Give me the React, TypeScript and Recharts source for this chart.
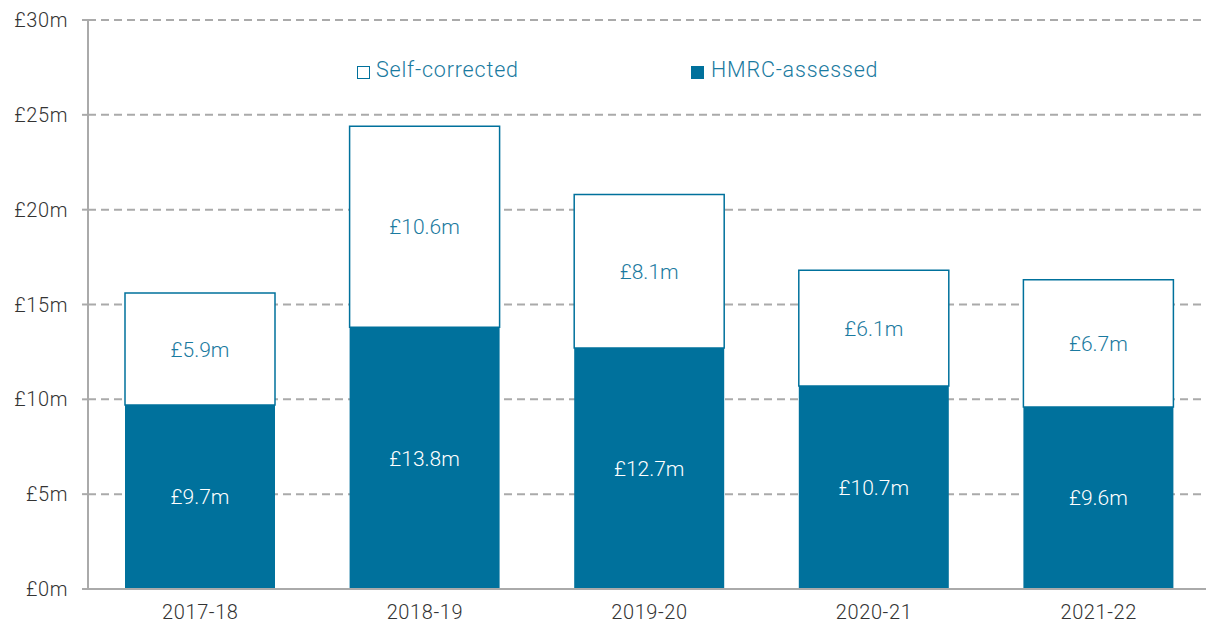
import React from "react";
import { BarChart, Bar, XAxis, YAxis, CartesianGrid, LabelList, Legend } from "recharts";

const categories = ["2017-18", "2018-19", "2019-20", "2020-21", "2021-22"];
const hmrcAssessed = [9.7, 13.8, 12.7, 10.7, 9.6];
const selfCorrected = [5.9, 10.6, 8.1, 6.1, 6.7];
const yTicks = [0, 5, 10, 15, 20, 25, 30];

const data = categories.map((c, i) => ({ year: c, hmrc: hmrcAssessed[i], self: selfCorrected[i] }));

const TEAL = "#00719c";
const TEXT_TEAL = "#1a7aa0";
const FONT = "Roboto, 'Noto Sans', sans-serif";

const renderLegend = () => (
  <div style={{ position: "relative", width: 1212, height: 0, fontFamily: FONT }}>
    <div style={{ position: "absolute", left: 357, top: 57, display: "flex", alignItems: "center", whiteSpace: "nowrap" }}>
      <span style={{ display: "inline-block", width: 11, height: 11, border: `1.5px solid ${TEAL}`, background: "#fff", marginRight: 6, marginTop: 5 }} />
      <span style={{ fontSize: 21.5, color: TEXT_TEAL, fontWeight: 300, letterSpacing: 0.8 }}>Self-corrected</span>
    </div>
    <div style={{ position: "absolute", left: 691, top: 57, display: "flex", alignItems: "center", whiteSpace: "nowrap" }}>
      <span style={{ display: "inline-block", width: 13, height: 13, background: TEAL, marginRight: 7, marginTop: 5 }} />
      <span style={{ fontSize: 21.5, color: TEXT_TEAL, fontWeight: 300, letterSpacing: 0.8 }}>HMRC-assessed</span>
    </div>
  </div>
);

const tickStyle = { fill: "#333", fontSize: 20, fontFamily: FONT, fontWeight: 300, letterSpacing: 0.6 };

export default function App() {
  return (
    <div style={{ position: "absolute", left: 0, top: 0, width: 1206, height: 628, overflow: "hidden", background: "#fff" }}>
      <BarChart
        width={1212}
        height={628}
        data={data}
        margin={{ top: 20, right: 1, left: 0, bottom: 9 }}
        barSize={150}
      >
        <CartesianGrid vertical={false} stroke="#aaaaaa" strokeDasharray="8 5" strokeWidth={2} />
        <XAxis
          dataKey="year"
          tickLine={false}
          axisLine={{ stroke: "#aaaaaa", strokeWidth: 2 }}
          tick={tickStyle}
          height={30}
          tickMargin={10}
        />
        <YAxis
          width={88}
          domain={[0, 30]}
          ticks={yTicks}
          interval={0}
          tickFormatter={(v: number) => `£${v}m`}
          axisLine={{ stroke: "#aaaaaa", strokeWidth: 2 }}
          tickLine={{ stroke: "#aaaaaa", strokeWidth: 2 }}
          tickSize={6}
          tickMargin={14}
          tick={tickStyle}
        />
        <Legend verticalAlign="top" align="left" content={renderLegend} wrapperStyle={{ top: 0, left: 0, height: 0 }} />
        <Bar dataKey="hmrc" stackId="a" fill={TEAL} isAnimationActive={false}>
          <LabelList
            dataKey="hmrc"
            position="center"
            formatter={(v: number) => `£${v}m`}
            style={{ fill: "#ffffff", fontSize: 21, fontFamily: FONT, fontWeight: 300 }}
          />
        </Bar>
        <Bar dataKey="self" stackId="a" fill="#ffffff" stroke={TEAL} strokeWidth={1.5} isAnimationActive={false}>
          <LabelList
            dataKey="self"
            position="center"
            formatter={(v: number) => `£${v}m`}
            style={{ fill: TEXT_TEAL, fontSize: 21, fontFamily: FONT, fontWeight: 300, stroke: "none" }}
          />
        </Bar>
      </BarChart>
    </div>
  );
}
